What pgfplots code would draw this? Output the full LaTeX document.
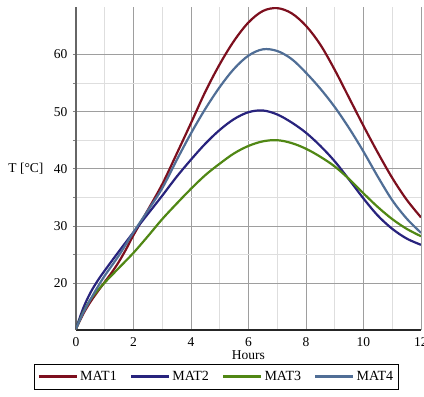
\documentclass[border=0pt]{standalone}
\usepackage{fontspec}
\setmainfont{Liberation Serif}
\usepackage{pgfplots}
\pgfplotsset{compat=1.18}
\definecolor{mat1}{RGB}{125,15,30}
\definecolor{mat2}{RGB}{40,35,125}
\definecolor{mat3}{RGB}{80,135,20}
\definecolor{mat4}{RGB}{80,110,150}
\begin{document}
\begin{tikzpicture}
\begin{axis}[
  name=ax,
  scale only axis,
  width=345pt, height=323pt,
  xmin=0, xmax=12, ymin=11.8, ymax=68.3,
  xtick={0,2,...,12}, ytick={20,30,...,60},
  minor x tick num=1, minor y tick num=1,
  grid=both,
  major grid style={color=black!38, line width=0.8pt},
  minor grid style={color=black!13, line width=0.8pt},
  axis x line=bottom, axis y line=left,
  x axis line style={-, line width=1.3pt, color=black!85},
  y axis line style={-, line width=1.8pt, color=black!60},
  tick align=outside,
  major tick length=3pt, minor tick length=3pt,
  tick style={color=black!50, line width=0.6pt},
  xtick style={draw=none},
  /pgf/number format/assume math mode=true,
  ticklabel style={font=\fontsize{13.5}{15}\selectfont},
  xticklabel style={yshift=-1pt},
  yticklabel style={xshift=-2pt},
  xlabel={Hours}, ylabel={T [°C]},
  every axis x label/.style={at={(axis description cs:0.5,0)}, anchor=north, yshift=-17pt, font=\fontsize{13.5}{15}\selectfont},
  every axis y label/.style={at={(axis description cs:0,0.5)}, anchor=east, xshift=-29pt, font=\fontsize{13.5}{15}\selectfont},
  legend columns=4,
  legend style={at={(axis description cs:0.407,0)}, anchor=north, yshift=-34pt,
    draw=black, line width=0.8pt, inner xsep=3pt, inner ysep=5pt,
    font=\fontsize{14}{16}\selectfont,
    /tikz/every even column/.append style={column sep=11pt}},
  legend image code/.code={\draw[#1, line width=2.6pt] (0pt,0pt) -- (38pt,0pt);},
  every axis plot/.append style={line width=2.2pt, smooth, tension=0.55},
]
\addplot[mat1] coordinates {
(0,12) (0.25,14.6) (0.5,16.7) (0.75,18.5) (1,20.2) (1.25,21.9) (1.5,23.8) (1.75,26)
(2,28.4) (2.5,32.8) (3,37.3) (3.5,42.6) (4,48) (4.5,53.5) (5,58.3) (5.5,62.4)
(6,65.6) (6.5,67.6) (7,68.1) (7.5,67.2) (8,65) (8.5,61.7) (9,57.3) (9.5,52.4)
(10,47.5) (10.5,42.8) (11,38.4) (11.5,34.6) (12,31.5)};
\addlegendentry{MAT1}
\addplot[mat2] coordinates {
(0,12) (0.25,15.6) (0.5,18.3) (0.75,20.4) (1,22.2) (1.5,25.6) (2,28.9) (2.5,32.1)
(3,35.3) (3.5,38.6) (4,41.6) (4.5,44.4) (5,46.8) (5.5,48.7) (6,49.9) (6.5,50.2)
(7,49.5) (7.5,48.1) (8,46.3) (8.5,44) (9,41.3) (9.5,38.1) (10,34.8) (10.5,31.8)
(11,29.5) (11.5,27.8) (12,26.7)};
\addlegendentry{MAT2}
\addplot[mat3] coordinates {
(0,12) (0.25,14.9) (0.5,17.1) (0.75,18.7) (1,20.1) (1.5,22.7) (2,25.3) (2.5,28.2)
(3,31.2) (3.5,33.9) (4,36.5) (4.5,38.9) (5,40.9) (5.5,42.7) (6,44) (6.5,44.8)
(7,45) (7.5,44.5) (8,43.5) (8.5,42.1) (9,40.4) (9.5,38.2) (10,35.7) (10.5,33.3)
(11,31.2) (11.5,29.5) (12,28.2)};
\addlegendentry{MAT3}
\addplot[mat4] coordinates {
(0,12) (0.25,14.8) (0.5,17.1) (0.75,19.3) (1,21.3) (1.5,24.9) (2,28.9) (2.5,32.7)
(3,36.6) (3.5,41.5) (4,46.2) (4.5,50.5) (5,54.3) (5.5,57.5) (6,59.8) (6.5,60.9)
(7,60.6) (7.5,59.2) (8,56.8) (8.5,54) (9,50.8) (9.5,47.1) (10,43) (10.5,38.6)
(11,34.5) (11.5,31.3) (12,28.8)};
\addlegendentry{MAT4}
\end{axis}
\pgfresetboundingbox
\path ([shift={(-76pt,-67pt)}]ax.south west) rectangle ([shift={(3pt,7pt)}]ax.north east);
\end{tikzpicture}
\end{document}
